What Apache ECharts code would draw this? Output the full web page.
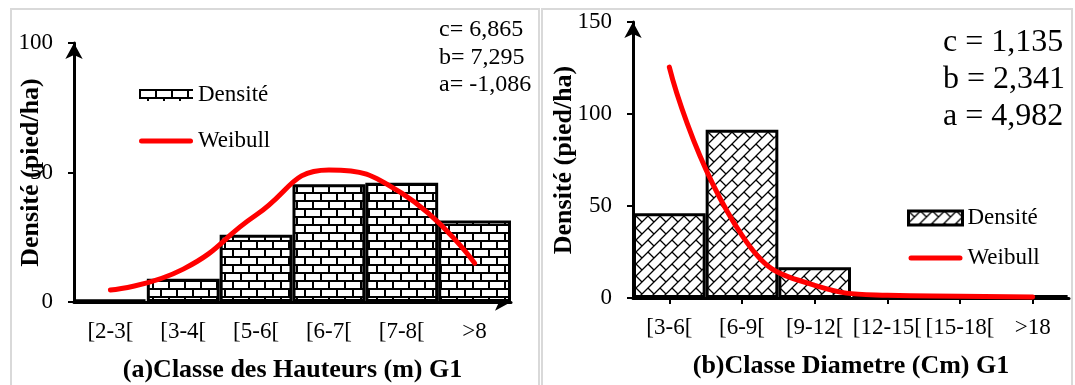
<!DOCTYPE html>
<html>
<head>
<meta charset="utf-8">
<script src="https://cdn.jsdelivr.net/npm/echarts@6/dist/echarts.min.js"></script>
<style>
  html, body { margin: 0; padding: 0; background: #fff; }
  #chartA { position: absolute; left: 0; top: 0; width: 540px; height: 385px; }
  #chartB { position: absolute; left: 540px; top: 0; width: 535px; height: 385px; }
</style>
</head>
<body>
<div id="chartA"></div>
<div id="chartB"></div>
<script>
// (a) hauteurs
const hauteurCategories = ['[2-3[', '[3-4[', '[5-6[', '[6-7[', '[7-8[', '>8'];
const hauteurDensite = [1, 9, 26, 45.5, 46, 31.5];
const hauteurWeibull = [4.6, 12.7, 33.6, 51, 42, 15];
const hauteurTicks = [0, 50, 100];
const hauteurParams = ['c= 6,865', 'b= 7,295', 'a= -1,086'];

// (b) diametres
const diametreCategories = ['[3-6[', '[6-9[', '[9-12[', '[12-15[', '[15-18[', '>18'];
const diametreDensite = [46, 91.4, 16.7, 1.5, 0, 1.5];
const diametreWeibull = [125.5, 34, 6.9, 1.5, 0.9, 0.5];
const diametreTicks = [0, 50, 100, 150];
const diametreParams = ['c = 1,135', 'b = 2,341', 'a = 4,982'];

const FONT = "'Liberation Serif', 'Times New Roman', serif";

// brick fill for chart (a)
function brickPattern() {
  const c = document.createElement('canvas');
  c.width = 16; c.height = 16;
  const ctx = c.getContext('2d');
  ctx.fillStyle = '#fff';
  ctx.fillRect(0, 0, 16, 16);
  ctx.strokeStyle = '#000';
  ctx.lineWidth = 2;
  ctx.beginPath();
  ctx.moveTo(0, 1); ctx.lineTo(16, 1);
  ctx.moveTo(0, 9); ctx.lineTo(16, 9);
  ctx.moveTo(1, 1); ctx.lineTo(1, 9);
  ctx.moveTo(9, 9); ctx.lineTo(9, 17);
  ctx.moveTo(9, -1); ctx.lineTo(9, 1);
  ctx.stroke();
  return c;
}

// diagonal brick fill for chart (b)
function diagBrickPattern() {
  const s = 12;
  const c = document.createElement('canvas');
  c.width = s; c.height = s;
  const ctx = c.getContext('2d');
  ctx.fillStyle = '#fff';
  ctx.fillRect(0, 0, s, s);
  ctx.strokeStyle = '#000';
  ctx.lineWidth = 1.3;
  ctx.beginPath();
  ctx.moveTo(-2, s + 2); ctx.lineTo(s + 2, -2);
  ctx.moveTo(-2, 2); ctx.lineTo(2, -2);
  ctx.moveTo(s - 2, s + 2); ctx.lineTo(s + 2, s - 2);
  ctx.moveTo(0, 0); ctx.lineTo(s / 2, s / 2);
  ctx.stroke();
  return c;
}

// thick red stroke with round ends for the Weibull legend entry
const lineIcon = 'path://M2.5,0 L51.5,0 A2.5,2.5 0 0 1 51.5,5 L2.5,5 A2.5,2.5 0 0 1 2.5,0 Z';

function buildOption(cfg) {
  return {
    backgroundColor: '#fff',
    animation: false,
    textStyle: { fontFamily: FONT, color: '#000' },
    grid: {
      left: cfg.grid[0], top: cfg.grid[1], width: cfg.grid[2], height: cfg.grid[3],
      outerBoundsMode: 'none'
    },
    legend: {
      left: cfg.legendPos[0],
      top: cfg.legendPos[1],
      orient: 'vertical',
      itemGap: cfg.legendGap,
      itemWidth: 54,
      itemHeight: cfg.legendIconH,
      textStyle: { fontFamily: FONT, fontSize: 23, color: '#000', lineHeight: 26 },
      data: [
        { name: 'Densité', icon: 'rect', itemStyle: { borderColor: '#000', borderWidth: cfg.legendBorder } },
        { name: 'Weibull', icon: lineIcon, itemStyle: { color: '#ff0000', borderWidth: 0 } }
      ]
    },
    xAxis: {
      type: 'category',
      data: cfg.categories,
      name: cfg.xName,
      nameLocation: 'middle',
      nameGap: 55,
      nameMoveOverlap: false,
      nameTextStyle: { fontFamily: FONT, fontSize: 26, fontWeight: 'bold', color: '#000' },
      axisLine: {
        lineStyle: { color: '#000', width: 3 },
        symbol: cfg.xArrow ? ['none', 'arrow'] : ['none', 'none'],
        symbolSize: [13, 16]
      },
      axisTick: { show: cfg.xTicks, alignWithLabel: true, length: 6, lineStyle: { color: '#000', width: 2 } },
      axisLabel: { fontFamily: FONT, fontSize: 23, color: '#000', margin: 18, interval: 0 },
      splitLine: { show: false }
    },
    yAxis: {
      type: 'value',
      min: 0,
      max: cfg.ticks[cfg.ticks.length - 1],
      interval: cfg.ticks[1] - cfg.ticks[0],
      name: 'Densité (pied/ha)',
      nameLocation: 'middle',
      nameGap: cfg.yNameGap,
      nameMoveOverlap: false,
      nameTextStyle: { fontFamily: FONT, fontSize: 26, fontWeight: 'bold', color: '#000' },
      axisLine: {
        show: true,
        lineStyle: { color: '#000', width: 3 },
        symbol: ['none', 'arrow'],
        symbolSize: [13, 16]
      },
      axisTick: { show: true, length: 6, lineStyle: { color: '#000', width: 2 } },
      axisLabel: { fontFamily: FONT, fontSize: 23, color: '#000', margin: 21 },
      splitLine: { show: false }
    },
    graphic: [
      {
        type: 'rect',
        shape: { x: cfg.frame[0], y: 9, width: cfg.frame[1], height: 420 },
        style: { fill: 'none', stroke: '#d9d9d9', lineWidth: 2 },
        silent: true
      },
      {
        type: 'text',
        left: cfg.paramPos[0],
        top: cfg.paramPos[1],
        style: {
          text: cfg.params.join('\n'),
          font: cfg.paramFont + 'px ' + FONT,
          lineHeight: cfg.paramLine,
          fill: '#000'
        }
      }
    ],
    series: [
      {
        name: 'Densité',
        type: 'bar',
        data: cfg.densite,
        barCategoryGap: '0%',
        itemStyle: {
          color: { image: cfg.pattern, repeat: 'repeat' },
          borderColor: '#000',
          borderWidth: 3
        },
        z: 2
      },
      {
        name: 'Weibull',
        type: 'line',
        data: cfg.weibull,
        smooth: 0.5,
        symbol: 'none',
        lineStyle: { color: '#ff0000', width: 5, cap: 'round' },
        itemStyle: { color: '#ff0000' },
        z: 3
      }
    ]
  };
}

const chartA = echarts.init(document.getElementById('chartA'));
chartA.setOption(buildOption({
  grid: [74, 43, 437, 259],
  categories: hauteurCategories,
  densite: hauteurDensite,
  weibull: hauteurWeibull,
  ticks: hauteurTicks,
  params: hauteurParams,
  xName: '(a)Classe des Hauteurs (m) G1',
  xArrow: true,
  xTicks: false,
  yNameGap: 30,
  legendPos: [134, 77],
  legendGap: 20,
  legendIconH: 12,
  legendBorder: 0,
  frame: [11, 528],
  paramPos: [439, 16],
  paramFont: 24,
  paramLine: 27.5,
  pattern: brickPattern()
}));

const chartB = echarts.init(document.getElementById('chartB'));
chartB.setOption(buildOption({
  grid: [93, 22, 436, 276],
  categories: diametreCategories,
  densite: diametreDensite,
  weibull: diametreWeibull,
  ticks: diametreTicks,
  params: diametreParams,
  xName: '(b)Classe Diametre (Cm) G1',
  xArrow: false,
  xTicks: true,
  yNameGap: 56,
  legendPos: [362, 200],
  legendGap: 14,
  legendIconH: 14,
  legendBorder: 3,
  frame: [2, 530],
  paramPos: [403, 24],
  paramFont: 32,
  paramLine: 37,
  pattern: diagBrickPattern()
}));
</script>
</body>
</html>
